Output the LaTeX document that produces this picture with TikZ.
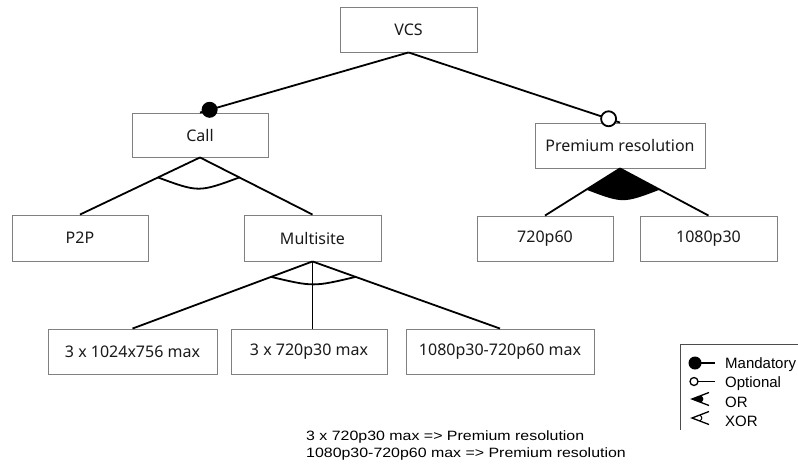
\documentclass[tikz,border=0pt]{standalone}
\usepackage{fontspec}
\usetikzlibrary{calc}
\newfontfamily\boxfont{Noto Sans}
\newfontfamily\legfont{Liberation Sans}
\newfontfamily\notefont[FakeStretch=1.18]{Liberation Sans}
\definecolor{boxline}{HTML}{808080}
\definecolor{txt}{HTML}{1A1A1A}
\tikzset{
  fbox/.style={draw=boxline, line width=0.9pt, minimum height=45pt, inner sep=0pt,
    text=txt, font=\boxfont\fontsize{16}{19}\selectfont},
  conn/.style={line width=1.8pt, black},
  legtxt/.style={anchor=base west, inner sep=0pt, font=\legfont\fontsize{15}{17}\selectfont},
  notetxt/.style={anchor=base west, inner sep=0pt, font=\notefont\fontsize{13.5}{16}\selectfont},
  legsym/.style={line width=1.3pt, black}
}
\begin{document}
\begin{tikzpicture}[x=1pt,y=-1pt]
\useasboundingbox[fill=white] (0,0) rectangle (798,472);
% boxes
\node[fbox, minimum width=137pt] (vcs) at (408.5,29.5) {VCS};
\node[fbox, minimum width=136pt, minimum height=44pt] (call) at (200,135) {Call};
\node[fbox, minimum width=170pt] (prem) at (620,145.5) {Premium resolution};
\node[fbox, minimum width=136pt, minimum height=46pt] (ptp) at (80,238) {P2P};
\node[fbox, minimum width=137pt, minimum height=46pt] (multi) at (312.5,238) {Multisite};
\node[fbox, minimum width=136pt] (pa) at (545,238.5) {720p60};
\node[fbox, minimum width=137pt] (pb) at (708.5,238.5) {1080p30};
\node[fbox, minimum width=169pt] (ma) at (132.5,351.5) {3 x 1024x756 max};
\node[fbox, minimum width=156pt] (mb) at (309,351.5) {3 x 720p30 max};
\node[fbox, minimum width=188pt] (mc) at (500,351.5) {1080p30-720p60 max};
% root connectors
\draw[conn] (vcs.south) -- (call.north);
\fill ($(call.north)!10pt!(vcs.south)$) circle (8);
\draw[conn] (vcs.south) -- (prem.north);
\draw[conn, fill=white] ($(prem.north)!12pt!(vcs.south)$) circle (7.5);
% Call XOR
\draw[conn] (call.south) -- (ptp.north);
\draw[conn] (call.south) -- (multi.north);
\coordinate (c1) at ($(call.south)!0.35!(ptp.north)$);
\coordinate (c2) at ($(call.south)!0.35!(multi.north)$);
\draw[conn] (c1) .. controls ($(c1)!0.5!(c2)+(0,15)$) .. (c2);
% Premium OR
\coordinate (p1) at ($(prem.south)!0.45!(pa.north)$);
\coordinate (p2) at ($(prem.south)!0.45!(pb.north)$);
\fill (prem.south) -- (p1) .. controls ($(p1)!0.5!(p2)+(0,14)$) .. (p2) -- cycle;
\draw[conn] (prem.south) -- (pa.north);
\draw[conn] (prem.south) -- (pb.north);
% Multisite XOR
\draw[conn] (multi.south) -- (ma.north);
\draw[conn] (multi.south) -- (multi.south |- mb.north);
\draw[conn] (multi.south) -- (mc.north);
\coordinate (m1) at ($(multi.south)!0.23!(ma.north)$);
\coordinate (m2) at ($(multi.south)!0.23!(mc.north)$);
\draw[conn] (m1) .. controls ($(m1)!0.5!(m2)+(0,10)$) .. (m2);
% legend
\draw[draw=black!70, line width=1pt] (800,344) -- (680,344) -- (680,430);
\fill (695,363) circle (6.5);
\draw[legsym] (695,363) -- (715,363);
\draw[legsym, fill=white] (694,381.5) circle (4);
\draw[legsym] (698,381.5) -- (715,381.5);
\fill (692,399) -- (701.4,395.4) .. controls (704,399) .. (701.4,402.6) -- cycle;
\draw[legsym] (709,392.5) -- (692,399) -- (709,405.5);
\draw[legsym] (709,411.5) -- (692,418) -- (709,424.5);
\draw[line width=1pt] (700,415) .. controls (702.5,418) .. (700,421);
\node[legtxt] (lm) at (725,368) {Mandatory};
\node[legtxt] (lo) at (725,387) {Optional};
\node[legtxt] (lor) at (725,407) {OR};
\node[legtxt] (lx) at (725,426) {XOR};
% constraints
\node[notetxt] (n1) at (306,440) {3 x 720p30 max => Premium resolution};
\node[notetxt] (n2) at (306,457) {1080p30-720p60 max => Premium resolution};
\end{tikzpicture}
\end{document}
